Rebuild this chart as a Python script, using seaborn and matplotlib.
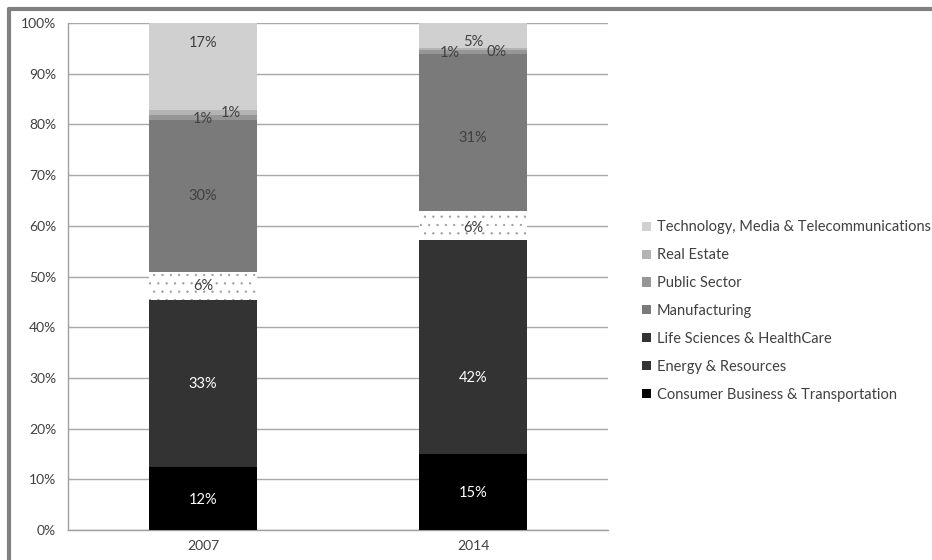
import matplotlib
matplotlib.use("Agg")
import matplotlib.pyplot as plt
from matplotlib.patches import Patch
from matplotlib.lines import Line2D
import numpy as np
import seaborn as sns

# ---- data (percent of total) ----
years = ["2007", "2014"]
sectors = [
    "Consumer Business & Transportation",
    "Energy & Resources",
    "Life Sciences & HealthCare",
    "Manufacturing",
    "Public Sector",
    "Real Estate",
    "Technology, Media & Telecommunications",
]
consumer = [12.4, 15.0]
energy = [32.9, 42.2]
life_sciences = [5.6, 5.7]
manufacturing = [29.9, 31.0]
public_sector = [1.0, 0.8]
real_estate = [1.0, 0.3]
technology = [17.2, 5.0]
series = [consumer, energy, life_sciences, manufacturing, public_sector, real_estate, technology]

colors = ["#000000", "#333333", "#ffffff", "#7a7a7a", "#969696", "#b4b4b4", "#d0d0d0"]
legend_colors = ["#000000", "#333333", "#333333", "#7a7a7a", "#969696", "#b4b4b4", "#d0d0d0"]
text_colors = ["white", "white", "#404040", "#404040", "#404040", "#404040", "#404040"]
# label nudges in pixels (dx, dy), per sector per year
nudges = [
    [(0, -1), (0, -1)],
    [(0, 0), (0, -31)],
    [(0, 0), (0, -2)],
    [(0, 0), (0, -5)],
    [(0, -1), (-23, -1)],
    [(28, 0), (24, -3)],
    [(0, 24), (0, -6)],
]

sns.set_style("white")
plt.rcParams["font.family"] = ["Lato", "DejaVu Sans"]
plt.rcParams["hatch.color"] = "#9a9a9a"
plt.rcParams["hatch.linewidth"] = 0.4

fig = plt.figure(figsize=(9.32, 5.6), dpi=100)
ax = fig.add_axes([68 / 932, 30 / 560, 540 / 932, 507 / 560])

bottom = np.zeros(len(years))
for i, (name, vals) in enumerate(zip(sectors, series)):
    kw = dict(linewidth=0, edgecolor="none")
    if name == "Life Sciences & HealthCare":
        kw = dict(hatch="..", edgecolor="#9a9a9a", linewidth=0)
    sns.barplot(x=years, y=vals, bottom=bottom, color=colors[i], width=0.4,
                saturation=1, ax=ax, zorder=3, **kw)
    for j, v in enumerate(vals):
        dx, dy = nudges[i][j]
        ax.annotate(f"{round(v):d}%", (j, bottom[j] + v / 2),
                    xytext=(dx * 0.72, dy * 0.72), textcoords="offset points",
                    ha="center", va="center", fontsize=10.5, color=text_colors[i],
                    zorder=5)
    bottom = bottom + np.array(vals)

ax.set_xlim(-0.5, 1.5)
ax.set_ylim(0, 100)
ax.set_yticks(np.arange(0, 101, 10))
ax.set_yticklabels([f"{t}%" for t in range(0, 101, 10)])
ax.set_xticks([-0.5, 0.5, 1.5], minor=True)
ax.tick_params(axis="x", which="major", length=0, pad=7, labelsize=10, colors="#404040")
ax.tick_params(axis="x", which="minor", length=4, color="#a0a0a0")
ax.tick_params(axis="y", length=5, color="#a0a0a0", labelsize=10, labelcolor="#404040")
ax.yaxis.grid(True, color="#a8a8a8", linewidth=1, zorder=0)
ax.set_axisbelow(True)
for s in ["top", "right"]:
    ax.spines[s].set_visible(False)
for s in ["left", "bottom"]:
    ax.spines[s].set_color("#a0a0a0")
    ax.spines[s].set_linewidth(1)
ax.set_xlabel("")
ax.set_ylabel("")

handles = [Patch(facecolor=c, edgecolor="none") for c in legend_colors]
fig.legend(handles[::-1], sectors[::-1], loc="center left",
           bbox_to_anchor=(632 / 932, 1 - 311 / 560), frameon=False,
           fontsize=10.5, labelspacing=0.95, handlelength=0.6, handleheight=0.6,
           handletextpad=0.4, labelcolor="#404040", borderpad=0.2)

# outer frame (top and left edges visible)
fig.add_artist(Line2D([9 / 932, 9 / 932], [0, 1 - 9 / 560], transform=fig.transFigure,
                      color="#808080", linewidth=3))
fig.add_artist(Line2D([9 / 932, 1], [1 - 9 / 560, 1 - 9 / 560], transform=fig.transFigure,
                      color="#808080", linewidth=3))

fig.savefig("out.png", dpi=100)
